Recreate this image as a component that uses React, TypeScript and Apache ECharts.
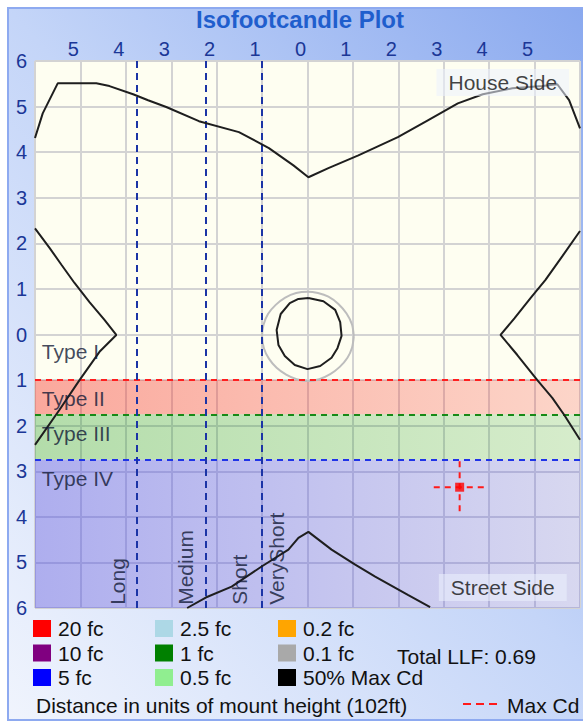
import React, { useEffect, useRef } from 'react';
import * as echarts from 'echarts';

const FONT = "'Liberation Sans', Arial, sans-serif";

// 50% Max Cd contour pieces (units of mounting height)
const topCurve = [[-6.0,4.31],[-5.83,4.85],[-5.5,5.51],[-4.65,5.51],[-4.36,5.45],[-3.84,5.27],[-3.51,5.14],[-3.11,4.99],[-2.39,4.68],[-1.51,4.44],[-0.85,4.09],[-0.31,3.71],[0.02,3.45],[0.46,3.65],[1.12,3.93],[1.99,4.33],[2.65,4.7],[3.31,5.07],[3.86,5.27],[4.51,5.4],[5.17,5.45],[5.5,5.49],[5.76,5.14],[6.0,4.52]];
const leftCurve = [[-6.0,2.33],[-5.68,1.9],[-5.41,1.52],[-5.13,1.13],[-4.8,0.71],[-4.47,0.32],[-4.21,-0.01],[-4.58,-0.38],[-5.02,-1.0],[-5.46,-1.65],[-6.0,-2.42]];
const rightCurve = [[6.0,2.27],[5.62,1.73],[5.24,1.2],[4.91,0.8],[4.56,0.36],[4.25,-0.01],[4.62,-0.45],[5.06,-1.0],[5.39,-1.39],[5.65,-1.76],[6.0,-2.31]];
const bottomCurve = [[-2.65,-6.0],[-2.24,-5.77],[-1.67,-5.53],[-1.01,-5.09],[-0.42,-4.72],[-0.2,-4.46],[0.02,-4.33],[0.53,-4.72],[1.05,-5.05],[1.49,-5.31],[2.21,-5.71],[2.7,-5.98]];
const innerLoop = [[0.02,0.8],[0.35,0.73],[0.61,0.54],[0.72,0.27],[0.75,-0.03],[0.66,-0.3],[0.53,-0.51],[0.28,-0.69],[0,-0.76],[-0.28,-0.67],[-0.5,-0.47],[-0.64,-0.23],[-0.68,0.1],[-0.59,0.45],[-0.39,0.69],[-0.2,0.78],[0.02,0.8]];
const outerRing = [[1.02,-0.04],[0.98,0.22],[0.86,0.46],[0.68,0.67],[0.46,0.83],[0.23,0.91],[0,0.94],[-0.25,0.91],[-0.49,0.81],[-0.7,0.65],[-0.87,0.45],[-0.97,0.21],[-1.0,-0.04],[-0.96,-0.3],[-0.85,-0.53],[-0.68,-0.73],[-0.47,-0.88],[-0.24,-0.98],[0.01,-1.02],[0.26,-0.98],[0.5,-0.87],[0.71,-0.71],[0.88,-0.51],[0.98,-0.29],[1.02,-0.04]];

// Lateral types (distance toward street side)
const typeNames = ['Type I', 'Type II', 'Type III', 'Type IV'];
const typeLabelY = [-0.37, -1.4, -2.17, -3.16];
const typeII = [-1, -1.75];
const typeIII = [-1.75, -2.75];
const typeIV = [-2.75, -6];

// Longitudinal classification boundaries
const roadBounds = [-1, -2.25, -3.75];
const roadNames = ['VeryShort', 'Short', 'Medium', 'Long'];
const roadLabelX = [-0.68, -1.5, -2.68, -4.19];
const roadLabelY = -5.93;

// Max candela point
const maxCd = [3.35, -3.35];
const maxCdArm = 0.57;

// Contour levels in legend
const levelNames = ['20 fc', '10 fc', '5 fc', '2.5 fc', '1 fc', '0.5 fc', '0.2 fc', '0.1 fc', '50% Max Cd'];
const levelColors = ['#ff0000', '#800080', '#0000ff', '#add8e6', '#008000', '#90ee90', '#ffa500', '#a9a9a9', '#000000'];

const sideLabels = [
  { name: 'House Side', value: [4.3, 5.53] },
  { name: 'Street Side', value: [4.3, -5.55] },
];

const totalLLF = 0.69;
const mountHeight = 102;

const grad = (c0: string, c1: string) =>
  new echarts.graphic.LinearGradient(0, 0, 1, 0, [
    { offset: 0, color: c0 },
    { offset: 1, color: c1 },
  ]);

const curveStyle = { color: '#1e1e1e', width: 2 };

function buildOption() {
  const contourSeries = [topCurve, leftCurve, rightCurve, bottomCurve, innerLoop].map((d) => ({
    name: '50% Max Cd',
    type: 'line',
    data: d,
    symbol: 'none',
    silent: true,
    z: 5,
    itemStyle: { color: '#000000' },
    lineStyle: curveStyle,
  }));

  const emptyLevels = levelNames.slice(0, 8).map((n, i) => ({
    name: n,
    type: 'line',
    data: [],
    symbol: 'none',
    itemStyle: { color: levelColors[i] },
    lineStyle: { color: levelColors[i] },
  }));

  const legendCommon = {
    orient: 'vertical',
    icon: 'rect',
    itemWidth: 18,
    itemHeight: 17,
    itemGap: 3.5,
    padding: 0,
    selectedMode: false,
    textStyle: { fontFamily: FONT, fontSize: 21, color: '#111111', padding: [0, 0, 0, 2] },
  };

  return {
    animation: false,
    title: {
      text: 'Isofootcandle Plot',
      left: 300,
      textAlign: 'center',
      top: 7,
      padding: 0,
      textStyle: { fontFamily: FONT, fontSize: 24, fontWeight: 'bold', color: '#1f5ecd' },
    },
    grid: {
      left: 35,
      top: 61,
      width: 548,
      height: 547,
      show: true,
      backgroundColor: '#fefef1',
      borderWidth: 0,
    },
    xAxis: {
      type: 'value',
      position: 'top',
      min: -6,
      max: 6,
      interval: 1,
      axisLine: { show: false },
      axisTick: { show: false },
      splitLine: { show: true, lineStyle: { color: '#d3d3d3', width: 2 } },
      axisLabel: {
        margin: 2,
        padding: [0, 14, 0, 0],
        color: '#1b3797',
        fontFamily: FONT,
        fontSize: 20,
        formatter: (v: number) => (Math.abs(v) >= 6 ? '' : String(Math.abs(v))),
      },
    },
    yAxis: {
      type: 'value',
      min: -6,
      max: 6,
      interval: 1,
      axisLine: { show: false },
      axisTick: { show: false },
      splitLine: { show: true, lineStyle: { color: '#d3d3d3', width: 2 } },
      axisLabel: {
        margin: 8,
        color: '#1b3797',
        fontFamily: FONT,
        fontSize: 20,
        formatter: (v: number) => String(Math.abs(v)),
      },
    },
    legend: [
      { ...legendCommon, data: levelNames.slice(0, 3), left: 33, top: 618 },
      { ...legendCommon, data: levelNames.slice(3, 6), left: 155, top: 618 },
      { ...legendCommon, data: levelNames.slice(6, 9), left: 278, top: 618 },
    ],
    graphic: [
      {
        type: 'text',
        x: 397,
        y: 656,
        silent: true,
        style: { text: `Total LLF: ${totalLLF.toFixed(2)}`, fontFamily: FONT, fontSize: 21, fill: '#111111', verticalAlign: 'middle' },
      },
      {
        type: 'text',
        x: 36,
        y: 705,
        silent: true,
        style: { text: `Distance in units of mount height (${mountHeight}ft)`, fontFamily: FONT, fontSize: 21, fill: '#111111', verticalAlign: 'middle' },
      },
      {
        type: 'line',
        silent: true,
        shape: { x1: 463, y1: 704, x2: 497, y2: 704 },
        style: { stroke: '#ff1a1a', lineWidth: 2, lineDash: [8, 5] },
      },
      {
        type: 'text',
        x: 507,
        y: 705,
        silent: true,
        style: { text: 'Max Cd', fontFamily: FONT, fontSize: 21, fill: '#111111', verticalAlign: 'middle' },
      },
    ],
    series: [
      // bands
      {
        name: 'bands',
        type: 'line',
        data: [],
        silent: true,
        z: 1,
        markArea: {
          silent: true,
          label: { show: false },
          data: [
            [{ yAxis: typeII[0], itemStyle: { color: grad('rgba(245,50,40,0.42)', 'rgba(245,50,40,0.2)') } }, { yAxis: typeII[1] }],
            [{ yAxis: typeIII[0], itemStyle: { color: grad('rgba(20,150,20,0.32)', 'rgba(20,150,20,0.17)') } }, { yAxis: typeIII[1] }],
            [{ yAxis: typeIV[0], itemStyle: { color: grad('rgba(80,80,235,0.46)', 'rgba(80,80,235,0.22)') } }, { yAxis: typeIV[1] }],
          ],
        },
      },
      {
        name: 'limits',
        type: 'line',
        data: [],
        silent: true,
        z: 4,
        markLine: {
          silent: true,
          symbol: 'none',
          label: { show: false },
          data: [
            { yAxis: typeII[0], lineStyle: { color: '#ff1f1f', width: 2, type: [6, 5] } },
            { yAxis: typeIII[0], lineStyle: { color: '#178a17', width: 2, type: [6, 5] } },
            { yAxis: typeIV[0], lineStyle: { color: '#1f33e8', width: 2, type: [6, 5] } },
            ...roadBounds.map((x) => ({ xAxis: x, lineStyle: { color: '#1b34a6', width: 2, type: [7, 5] } })),
          ],
        },
      },
      {
        name: 'ring',
        type: 'line',
        data: outerRing,
        symbol: 'none',
        smooth: 0.3,
        silent: true,
        z: 3,
        lineStyle: { color: '#bdbdbd', width: 2 },
      },
      ...contourSeries,
      ...emptyLevels,
      {
        name: 'maxCdH',
        type: 'line',
        data: [[maxCd[0] - maxCdArm, maxCd[1]], [maxCd[0] + maxCdArm, maxCd[1]]],
        symbol: 'none',
        silent: true,
        z: 6,
        lineStyle: { color: '#ff1a1a', width: 2, type: [6, 5] },
      },
      {
        name: 'maxCdV',
        type: 'line',
        data: [[maxCd[0], maxCd[1] + maxCdArm], [maxCd[0], maxCd[1] - maxCdArm]],
        symbol: 'none',
        silent: true,
        z: 6,
        lineStyle: { color: '#ff1a1a', width: 2, type: [6, 5] },
      },
      {
        name: 'maxCdPt',
        type: 'scatter',
        data: [maxCd],
        symbol: 'rect',
        symbolSize: 9,
        silent: true,
        z: 7,
        itemStyle: { color: '#ff0000' },
      },
      {
        name: 'typeLabels',
        type: 'scatter',
        data: typeNames.map((n, i) => ({ name: n, value: [-5.85, typeLabelY[i]] })),
        symbolSize: 1,
        silent: true,
        z: 8,
        itemStyle: { color: 'rgba(0,0,0,0)' },
        label: {
          show: true,
          position: 'inside',
          align: 'left',
          verticalAlign: 'middle',
          formatter: '{b}',
          fontFamily: FONT,
          fontSize: 21,
          color: '#121a36',
        },
      },
      {
        name: 'roadLabels',
        type: 'scatter',
        data: roadNames.map((n, i) => ({ name: n, value: [roadLabelX[i], roadLabelY] })),
        symbolSize: 1,
        silent: true,
        z: 8,
        itemStyle: { color: 'rgba(0,0,0,0)' },
        label: {
          show: true,
          position: 'inside',
          rotate: 90,
          align: 'left',
          verticalAlign: 'middle',
          formatter: '{b}',
          fontFamily: FONT,
          fontSize: 21,
          color: '#121a36',
        },
      },
      {
        name: 'sideLabels',
        type: 'scatter',
        data: sideLabels,
        symbolSize: 1,
        silent: true,
        z: 9,
        itemStyle: { color: 'rgba(0,0,0,0)' },
        label: {
          show: true,
          position: 'inside',
          align: 'center',
          verticalAlign: 'middle',
          formatter: '{b}',
          fontFamily: FONT,
          fontSize: 21,
          color: '#111111',
          backgroundColor: 'rgba(236,241,253,0.7)',
          padding: [3, 12, 3, 12],
        },
      },
    ],
  };
}

export default function App() {
  const ref = useRef<HTMLDivElement>(null);
  useEffect(() => {
    const chart = echarts.init(ref.current as HTMLDivElement, null, { renderer: 'svg' });
    chart.setOption(buildOption() as any);
    return () => chart.dispose();
  }, []);
  return (
    <div style={{ position: 'fixed', left: 0, top: 0, width: 583, height: 726, overflow: 'hidden', background: '#ffffff' }}>
      <div
        style={{
          position: 'absolute',
          left: 7,
          top: 7,
          width: 620,
          height: 714,
          boxSizing: 'border-box',
          border: '2px solid #8eaaf0',
          background: 'linear-gradient(to bottom left, #86a6ee 0%, #c4d5f8 50%, #f0f4fd 100%)',
        }}
      />
      <div ref={ref} style={{ position: 'absolute', left: 0, top: 0, width: 583, height: 726 }} />
    </div>
  );
}
